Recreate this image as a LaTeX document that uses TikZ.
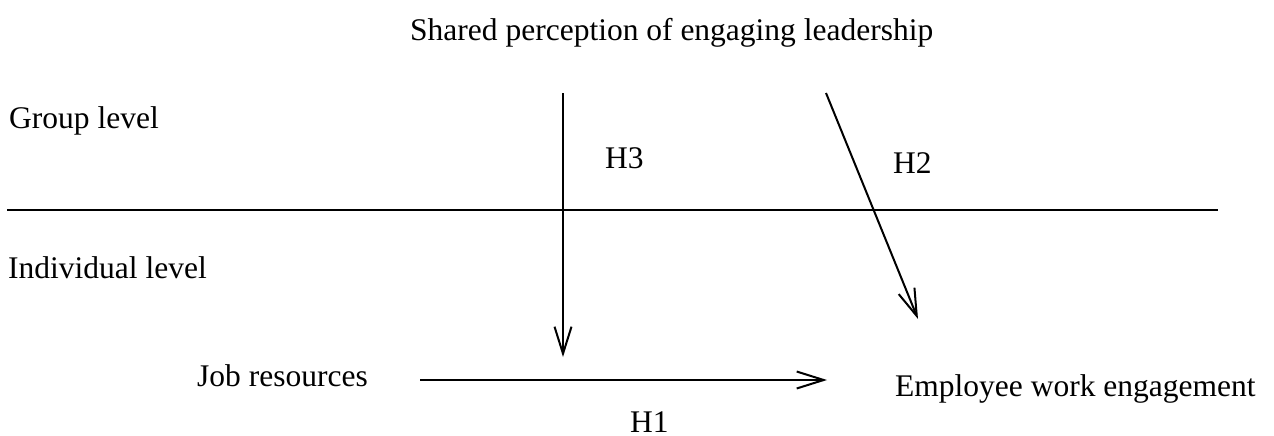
\documentclass[tikz,border=0pt]{standalone}
\usepackage{fontspec}
\setmainfont{Liberation Serif}
\usetikzlibrary{arrows.meta}
\begin{document}
\begin{tikzpicture}[x=1pt,y=-1pt,
  lbl/.style={inner sep=0pt,anchor=base west,font=\fontsize{31.5}{36}\selectfont},
  conn/.style={line width=2pt,-{Straight Barb[length=27pt,width=17pt,line width=2pt]}},
  sep/.style={line width=2pt}]
\useasboundingbox (0,0) rectangle (1274,436);
\node[lbl] (title) at (410,41) {Shared perception of engaging leadership};
\node[lbl] (group) at (9,128) {Group level};
\node[lbl] (indiv) at (8,278) {Individual level};
\node[lbl] (job) at (197,386) {Job resources};
\node[lbl] (emp) at (895,396) {Employee work engagement};
\node[lbl] (h3) at (605,168) {H3};
\node[lbl] (h2) at (893,173) {H2};
\node[lbl] (h1) at (630,432) {H1};
\coordinate (sepL) at (7,210);
\coordinate (sepR) at (1218,210);
\coordinate (v1) at (563,93);
\coordinate (v2) at (563,357);
\coordinate (d1) at (826,93);
\coordinate (d2) at (918,319);
\coordinate (h1s) at (420,380);
\coordinate (h1e) at (827,380);
\draw[sep] (sepL) -- (sepR);
\draw[conn] (v1) -- (v2);
\draw[conn] (d1) -- (d2);
\draw[conn] (h1s) -- (h1e);
\end{tikzpicture}
\end{document}
